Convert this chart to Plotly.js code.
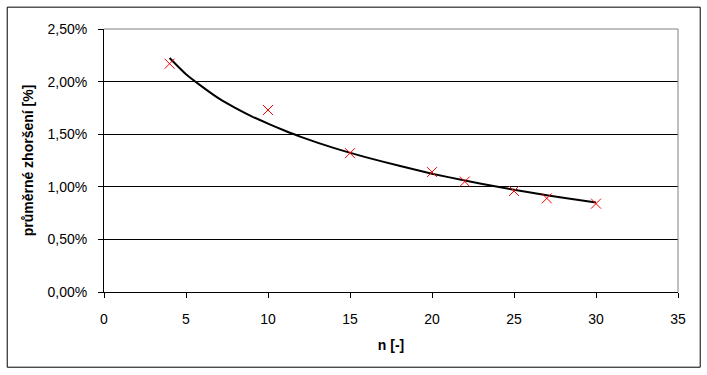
<!DOCTYPE html>
<html>
<head>
<meta charset="utf-8">
<script src="https://cdn.plot.ly/plotly-3.0.1.min.js"></script>
<style>
  html, body { margin: 0; padding: 0; background: #ffffff; }
  #chart { width: 707px; height: 375px; }
</style>
</head>
<body>
<div id="chart"></div>
<script>
// Measured points (n, average deterioration in %)
const nValues = [4, 10, 15, 20, 22, 25, 27, 30];
const deterioration = [2.17, 1.73, 1.32, 1.14, 1.05, 0.96, 0.89, 0.84];

// Trend line (n, %)
const trendN = [4, 5, 6, 7, 8, 9, 10, 11, 12, 14, 16, 18, 20, 22, 24, 26, 28, 30];
const trendValues = [2.224, 2.07, 1.95, 1.84, 1.75, 1.67, 1.60, 1.535, 1.475, 1.37, 1.28, 1.20, 1.125, 1.06, 1.00, 0.945, 0.895, 0.85];

const xTitle = 'n [-]';
const yTitle = 'průměrné zhoršení [%]';

const font = 'Liberation Sans, Arial, sans-serif';

const traces = [
  {
    x: trendN, y: trendValues, type: 'scatter', mode: 'lines',
    line: { color: '#000000', width: 2, shape: 'spline', smoothing: 0.6 },
    hoverinfo: 'skip', showlegend: false
  },
  {
    x: nValues, y: deterioration, type: 'scatter', mode: 'markers',
    marker: { symbol: 'x-thin-open', size: 10, color: '#ff0000', line: { color: '#ff0000', width: 1 } },
    showlegend: false
  }
];

const layout = {
  width: 707, height: 375,
  margin: { l: 104, r: 29, t: 29, b: 83, pad: 0 },
  paper_bgcolor: '#ffffff', plot_bgcolor: '#ffffff',
  separators: ', ',
  font: { family: font, size: 14, color: '#000000' },
  showlegend: false,
  xaxis: {
    range: [0, 35], dtick: 5, tick0: 0,
    showgrid: false, zeroline: false,
    showline: true, linecolor: '#000000', linewidth: 1,
    ticks: 'outside', ticklen: 5, tickwidth: 1, tickcolor: '#000000',
    ticklabelstandoff: 9,
    tickfont: { family: font, size: 14, color: '#000000' },
    title: { text: xTitle, font: { family: font, size: 14, color: '#000000', weight: 'bold' }, standoff: 14 }
  },
  yaxis: {
    range: [0, 2.5], dtick: 0.5, tick0: 0,
    tickformat: '.2f', ticksuffix: '%',
    showgrid: true, gridcolor: '#000000', gridwidth: 1,
    zeroline: false,
    showline: true, linecolor: '#000000', linewidth: 1,
    ticks: 'outside', ticklen: 5, tickwidth: 1, tickcolor: '#000000',
    ticklabelstandoff: 8,
    tickfont: { family: font, size: 14, color: '#000000' },
    title: { text: yTitle, font: { family: font, size: 14, color: '#000000', weight: 'bold' }, standoff: 10 }
  },
  shapes: [
    // gray top and right edges of the plot area
    { type: 'line', xref: 'paper', yref: 'paper', x0: 0, x1: 1, y0: 1, y1: 1, line: { color: '#808080', width: 1 } },
    { type: 'line', xref: 'paper', yref: 'paper', x0: 1, x1: 1, y0: 0, y1: 1, line: { color: '#808080', width: 1 } },
    // outer chart border
    { type: 'rect', xref: 'paper', yref: 'paper', x0: -0.1686, x1: 1.0387, y0: -0.286, y1: 1.083,
      line: { color: '#000000', width: 1 }, fillcolor: 'rgba(0,0,0,0)' }
  ]
};

Plotly.newPlot('chart', traces, layout, { displayModeBar: false, staticPlot: true });
</script>
</body>
</html>
